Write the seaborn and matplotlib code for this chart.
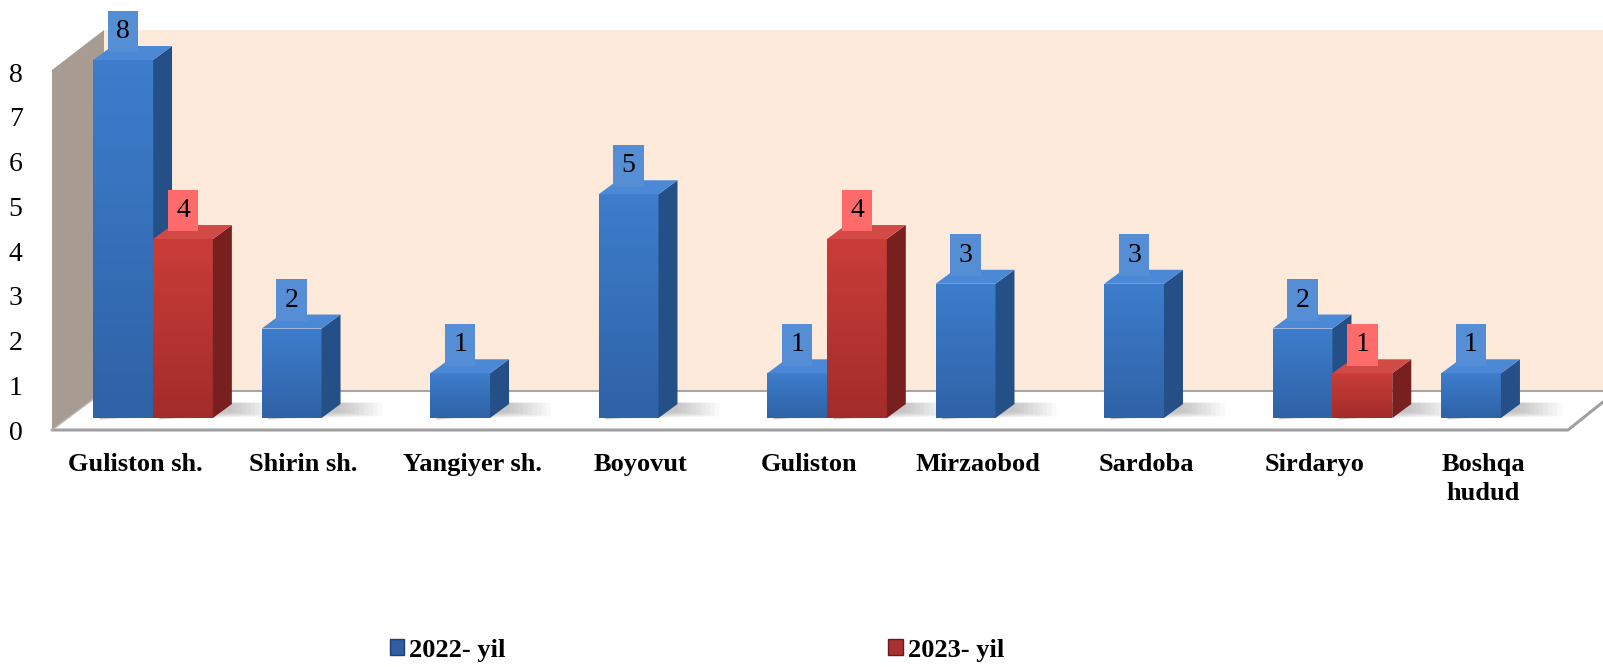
import numpy as np
import pandas as pd
import seaborn as sns
import matplotlib.pyplot as plt
from matplotlib.patches import Polygon, Patch
from matplotlib.colors import LinearSegmentedColormap
from matplotlib.transforms import ScaledTranslation

# data
hududlar = ["Guliston sh.", "Shirin sh.", "Yangiyer sh.", "Boyovut", "Guliston",
            "Mirzaobod", "Sardoba", "Sirdaryo", "Boshqa\nhudud"]
yil_2022 = [8, 2, 1, 5, 1, 3, 3, 2, 1]
yil_2023 = [4, 0, 0, 0, 4, 0, 0, 1, 0]
yillar = ["2022- yil", "2023- yil"]

df = pd.DataFrame({
    "hudud": hududlar * 2,
    "yil": [yillar[0]] * len(hududlar) + [yillar[1]] * len(hududlar),
    "soni": yil_2022 + yil_2023,
})

# colours: front bottom, front top, side, top, label box
blue = ("#2f62a6", "#3d7dcc", "#254f87", "#4b88d6", "#558ed5")
red = ("#a32c2a", "#c93d39", "#782020", "#d24a46", "#ff6b6b")

sns.set_theme(style="white")
plt.rcParams["font.family"] = ["Liberation Serif", "DejaVu Serif"]
plt.rcParams["text.color"] = "black"
plt.rcParams["xtick.color"] = "black"
plt.rcParams["ytick.color"] = "black"

W, H = 1603, 667
fig = plt.figure(figsize=(W / 100, H / 100), dpi=100)
ax = fig.add_axes([56 / W, 1 - 433.7 / H, 1512 / W, 405 / H])

sns.barplot(data=df, x="hudud", y="soni", hue="yil", palette=[blue[1], red[1]],
            width=0.71, saturation=1, linewidth=0, ax=ax, legend=False)
ax.set_xlim(-0.576, 8.398)
ax.set_ylim(-0.35, 8.7)

inv = ax.transData.inverted()


def px(x, y):
    # figure pixel (from top-left) -> data coords
    return inv.transform((x, H - y))


def poly(points, **kw):
    return Polygon([px(x, y) for x, y in points], closed=True, clip_on=False, **kw)


# back wall, side wall and floor
ax.add_patch(poly([(104, 30), (W, 30), (W, 391), (104, 391)], facecolor="#fdeadb",
                  edgecolor="none", zorder=0.5))
ax.add_patch(poly([(52, 430), (52, 70), (104, 30), (104, 391)], facecolor="#a89b91",
                  edgecolor="none", zorder=0.6))
ax.add_patch(poly([(52, 430), (1568, 430), (1603, 402), (1603, 391), (104, 391)],
                  facecolor="white", edgecolor="none", zorder=0.7))
ax.add_line(plt.Line2D(*zip(*[px(52, 430), px(1568, 430), px(1603, 402)]),
                       color="#a0a0a0", lw=2.2, clip_on=False, zorder=0.8))
ax.add_line(plt.Line2D(*zip(*[px(104, 391), px(W, 391)]),
                       color="#a6a6a6", lw=1.5, clip_on=False, zorder=0.8))
ax.add_line(plt.Line2D(*zip(*[px(52, 430), px(104, 391)]),
                       color="#b5b5b5", lw=1.0, clip_on=False, zorder=0.8))

# 3d depth offset of the bars in data units
o = inv.transform((0, 0))
ddx, ddy = inv.transform((19, 14)) - o
grad = np.linspace(0, 1, 64).reshape(-1, 1)

for k, (cont, col) in enumerate(zip(ax.containers, [blue, red])):
    cmap = LinearSegmentedColormap.from_list(f"g{k}", [col[0], col[1]])
    for bar in cont:
        h = bar.get_height()
        z = 3 + k
        bar.set_zorder(z)
        if h <= 0:
            bar.set_visible(False)
            continue
        x0, w = bar.get_x(), bar.get_width()
        x1 = x0 + w
        # vertical gradient on the front face
        im = ax.imshow(grad, cmap=cmap, origin="lower", aspect="auto",
                       extent=(x0, x1, 0, h), zorder=z + 0.01)
        im.set_clip_path(bar)
        # soft shadow on the floor
        for s in np.linspace(3.2, 1.0, 10):
            ax.add_patch(Polygon([(x0 + ddx * 0.3, -ddy * 0.1), (x1 + ddx * s, ddy * (0.6 - s * 0.15)),
                                  (x1 + ddx * s, ddy * 1.1), (x0 + ddx, ddy * 1.1)],
                                 facecolor="black", alpha=0.025, edgecolor="none", zorder=1))
        ax.add_patch(Polygon([(x1, 0), (x1 + ddx, ddy), (x1 + ddx, h + ddy), (x1, h)],
                             facecolor=col[2], edgecolor="none", zorder=z + 0.02))
        ax.add_patch(Polygon([(x0, h), (x1, h), (x1 + ddx, h + ddy), (x0 + ddx, h + ddy)],
                             facecolor=col[3], edgecolor="none", zorder=z + 0.02))
        ax.annotate(f"{h:g}", (x0 + w / 2, h), xytext=(0, 16), textcoords="offset pixels",
                    ha="center", va="bottom", fontsize=20, zorder=10,
                    bbox=dict(boxstyle="square,pad=0.3", facecolor=col[4], edgecolor="none"))

ax.set_xlim(-0.576, 8.398)
ax.set_ylim(-0.35, 8.7)

# axes styling
for s in ax.spines.values():
    s.set_visible(False)
ax.set_xlabel("")
ax.set_ylabel("")
ax.set_yticks(range(0, 9))
ax.tick_params(axis="y", length=0, pad=24, labelsize=20)
ax.tick_params(axis="x", length=0, pad=14, labelsize=19)
for lab in ax.get_yticklabels():
    lab.set_transform(lab.get_transform() + ScaledTranslation(0, -0.12, fig.dpi_scale_trans))
for lab in ax.get_xticklabels():
    lab.set_fontweight("bold")
    lab.set_linespacing(1.35)
    lab.set_transform(lab.get_transform() + ScaledTranslation(-0.18, 0, fig.dpi_scale_trans))

handles = [Patch(facecolor="#2f5ea3", edgecolor="#1f3f70"),
           Patch(facecolor="#a83030", edgecolor="#6a1818")]
fig.legend(handles, yillar, loc="center", bbox_to_anchor=(697 / W, 1 - 650 / H),
           ncol=2, frameon=False, handlelength=0.55, handleheight=0.55, handletextpad=0.2,
           columnspacing=14.5, prop={"weight": "bold", "size": 19})

fig.savefig("out.png", dpi=100, facecolor="white")
